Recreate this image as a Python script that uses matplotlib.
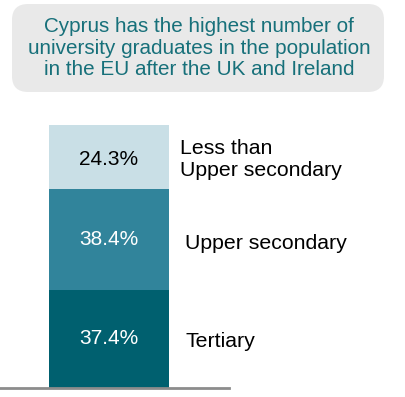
import matplotlib
matplotlib.use("Agg")
import matplotlib.pyplot as plt
from matplotlib.patches import FancyBboxPatch

categories = ["Tertiary", "Upper secondary", "Less than\nUpper secondary"]
values = [37.4, 38.4, 24.3]
value_labels = ["37.4%", "38.4%", "24.3%"]
colors = ["#00606F", "#31849B", "#C9DFE6"]
text_colors = ["white", "white", "black"]
title = "Cyprus has the highest number of\nuniversity graduates in the population\nin the EU after the UK and Ireland"

plt.rcParams['font.family'] = ['Liberation Sans', 'DejaVu Sans']

W, H = 405, 397
fig = plt.figure(figsize=(W/100, H/100), dpi=100)

# axes: baseline spans x 0..229 px, bar bottom at y=388 px, top at y=125 px
ax = fig.add_axes([0, (H-388)/H, 229/W, (388-125)/H])
total = sum(values)
ax.set_xlim(0, 229)
ax.set_ylim(0, total)

bottom = 0
label_x = [185, 185, 180]
label_dy = [-1.0, -1.5, -0.8]
value_dy = [0, 0, -0.8]
for v, lab, c, tc, cat, lx, dy, vdy in zip(values, value_labels, colors, text_colors,
                                           categories, label_x, label_dy, value_dy):
    ax.bar(109, v, width=120, bottom=bottom, color=c, linewidth=0)
    ax.text(109, bottom + v/2 + vdy, lab, ha='center', va='center', color=tc, fontsize=15)
    ax.text(lx, bottom + v/2 + dy, cat, ha='left', va='center', color='black', fontsize=15.3,
            clip_on=False, linespacing=1.2)
    bottom += v

for s in ['top', 'right', 'left']:
    ax.spines[s].set_visible(False)
ax.spines['bottom'].set_color('#8C8C8C')
ax.spines['bottom'].set_linewidth(2)
ax.set_xticks([])
ax.set_yticks([])
ax.patch.set_alpha(0)

# title box
box = FancyBboxPatch((12/W, (H-92)/H), (384-12)/W, (92-4)/H,
                     boxstyle="round,pad=0,rounding_size=0.04",
                     transform=fig.transFigure, facecolor="#E9E9E9", edgecolor="none")
fig.patches.append(box)
fig.text(199/W, (H-48)/H, title, ha='center', va='center', color='#17707A',
         fontsize=14.9, linespacing=1.18)

fig.savefig("out.png", dpi=100)
